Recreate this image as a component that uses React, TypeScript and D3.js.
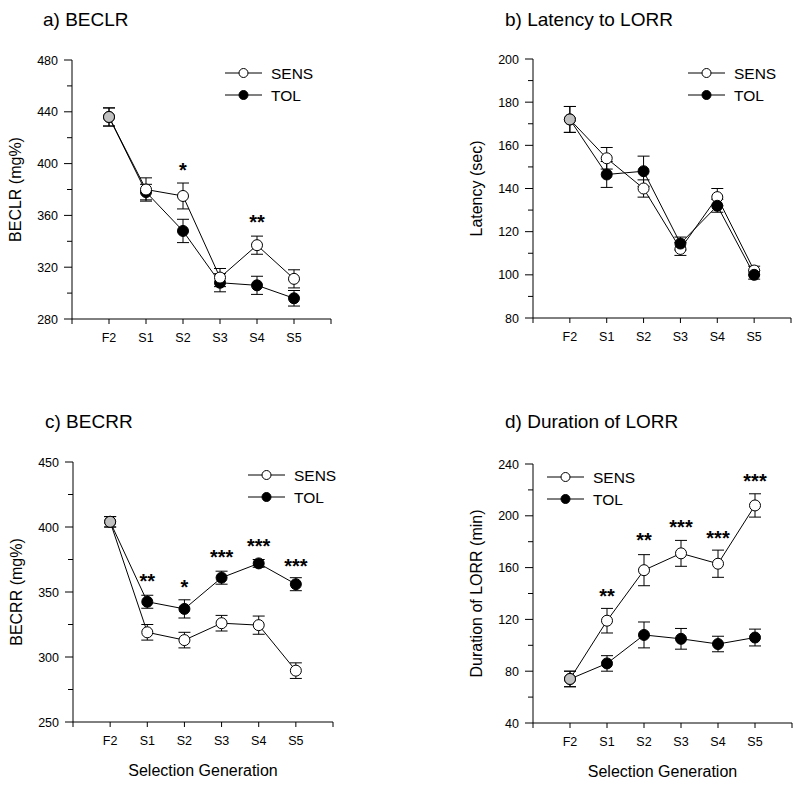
import React from 'react';
import * as d3 from 'd3';

const generations = ['F2', 'S1', 'S2', 'S3', 'S4', 'S5'];

// a) BECLR
const beclrSens = [436, 380, 375, 312, 337, 311];
const beclrSensErr = [7, 9, 10, 7, 7, 7];
const beclrTol = [436, 378, 348, 308, 306, 296];
const beclrTolErr = [7, 6, 9, 7, 7, 6];
const beclrSig = ['', '', '*', '', '**', ''];
const beclrSigY = [0, 0, 398, 0, 358, 0];

// b) Latency to LORR
const latSens = [172, 154, 140, 112, 136, 102];
const latSensErr = [6, 5, 4, 3, 4, 2];
const latTol = [172, 146.5, 148, 114.5, 132, 100];
const latTolErr = [6, 6, 7, 3, 3, 2];
const latSig = ['', '', '', '', '', ''];
const latSigY = [0, 0, 0, 0, 0, 0];

// c) BECRR
const becrrSens = [404, 319, 313, 326, 324.5, 289.5];
const becrrSensErr = [4, 6, 6, 6, 7, 6];
const becrrTol = [404, 342.5, 337, 361, 372, 356];
const becrrTolErr = [4, 5, 7, 5, 3, 5];
const becrrSig = ['', '**', '*', '***', '***', '***'];
const becrrSigY = [0, 361, 357, 380, 388.5, 373];

// d) Duration of LORR
const durSens = [74, 119, 158, 171, 163, 208];
const durSensErr = [6, 9.5, 12, 10, 10.5, 9];
const durTol = [74, 86, 108, 105, 101, 106];
const durTolErr = [6, 6, 10, 8, 6, 6.5];
const durSig = ['', '**', '**', '***', '***', '***'];
const durSigY = [0, 141, 184, 194, 186, 230];

const FONT = '"Liberation Sans", Arial, Helvetica, sans-serif';

type PanelProps = {
  title: string;
  titleX: number;
  titleY: number;
  axisX: number;
  right: number;
  top: number;
  bottom: number;
  yDomain: [number, number];
  major: number;
  minor: number;
  ylabel: string;
  xlabel: boolean;
  legendX: number;
  legendY: number;
  sens: number[];
  sensErr: number[];
  tol: number[];
  tolErr: number[];
  sig: string[];
  sigY: number[];
  topSeries: 'sens' | 'tol';
};

function Panel(p: PanelProps) {
  const x = d3.scaleLinear().domain([-1, 6]).range([p.axisX, p.right]);
  const y = d3.scaleLinear().domain(p.yDomain).range([p.bottom, p.top]);
  const majorTicks = d3.range(p.yDomain[0], p.yDomain[1] + 0.001, p.major);
  const minorTicks = d3.range(p.yDomain[0], p.yDomain[1] + 0.001, p.minor).filter(
    (v) => !majorTicks.some((m) => Math.abs(m - v) < 1e-6)
  );
  const xTicks = d3.range(-1, 7);
  const line = d3
    .line<number>()
    .x((_, i) => x(i))
    .y((d) => y(d));

  const series = [
    { key: 'sens', vals: p.sens, err: p.sensErr, fill: '#ffffff' },
    { key: 'tol', vals: p.tol, err: p.tolErr, fill: '#000000' },
  ];
  const ordered = p.topSeries === 'sens' ? [series[1], series[0]] : series;
  const r = 5.5;
  const cap = 6;
  const sigSize = 20;

  return (
    <g>
      <text x={p.titleX} y={p.titleY} fontSize={19} fontFamily={FONT} fill="#000">
        {p.title}
      </text>
      {/* y axis */}
      <line x1={p.axisX} x2={p.axisX} y1={p.top} y2={p.bottom} stroke="#000" strokeWidth={1} />
      {majorTicks.map((t) => (
        <g key={'M' + t}>
          <line x1={p.axisX - 8} x2={p.axisX} y1={y(t)} y2={y(t)} stroke="#000" strokeWidth={1} />
          <text
            x={p.axisX - 14}
            y={y(t)}
            dy="0.36em"
            textAnchor="end"
            fontSize={12.5}
            fontFamily={FONT}
            fill="#000"
          >
            {t}
          </text>
        </g>
      ))}
      {minorTicks.map((t) => (
        <line key={'m' + t} x1={p.axisX - 5} x2={p.axisX} y1={y(t)} y2={y(t)} stroke="#000" strokeWidth={1} />
      ))}
      <text
        transform={`translate(${p.axisX - 51},${(p.top + p.bottom) / 2}) rotate(-90)`}
        textAnchor="middle"
        fontSize={16}
        fontFamily={FONT}
        fill="#000"
      >
        {p.ylabel}
      </text>
      {/* x axis */}
      <line x1={p.axisX} x2={p.right} y1={p.bottom} y2={p.bottom} stroke="#000" strokeWidth={1} />
      {xTicks.map((t) => (
        <line key={'x' + t} x1={x(t)} x2={x(t)} y1={p.bottom} y2={p.bottom + 5} stroke="#000" strokeWidth={1} />
      ))}
      {generations.map((g, i) => (
        <text
          key={g}
          x={x(i)}
          y={p.bottom + 23}
          textAnchor="middle"
          fontSize={12.5}
          fontFamily={FONT}
          fill="#000"
        >
          {g}
        </text>
      ))}
      {p.xlabel && (
        <text
          x={(p.axisX + p.right) / 2}
          y={p.bottom + 54}
          textAnchor="middle"
          fontSize={16}
          fontFamily={FONT}
          fill="#000"
        >
          Selection Generation
        </text>
      )}
      {/* lines */}
      {series.map((s) => (
        <path key={'l' + s.key} d={line(s.vals) || ''} fill="none" stroke="#000" strokeWidth={1} />
      ))}
      {/* error bars */}
      {series.map((s) =>
        s.vals.map((v, i) => (
          <g key={'e' + s.key + i} stroke="#000" strokeWidth={1}>
            <line x1={x(i)} x2={x(i)} y1={y(v - s.err[i])} y2={y(v + s.err[i])} />
            <line x1={x(i) - cap} x2={x(i) + cap} y1={y(v + s.err[i])} y2={y(v + s.err[i])} />
            <line x1={x(i) - cap} x2={x(i) + cap} y1={y(v - s.err[i])} y2={y(v - s.err[i])} />
          </g>
        ))
      )}
      {/* markers */}
      {ordered.map((s) =>
        s.vals.map((v, i) => (
          <circle
            key={'c' + s.key + i}
            cx={x(i)}
            cy={y(v)}
            r={r}
            fill={i === 0 ? '#c0c0c0' : s.fill}
            stroke="#000"
            strokeWidth={1}
          />
        ))
      )}
      {/* significance */}
      {p.sig.map((s, i) =>
        s ? (
          <text
            key={'s' + i}
            x={x(i)}
            y={y(p.sigY[i]) + sigSize * 0.53}
            textAnchor="middle"
            fontSize={sigSize}
            fontWeight="bold"
            fontFamily={FONT}
            fill="#000"
          >
            {s}
          </text>
        ) : null
      )}
      {/* legend */}
      {[
        { label: 'SENS', fill: '#ffffff', dy: 0 },
        { label: 'TOL', fill: '#000000', dy: 22 },
      ].map((l) => (
        <g key={l.label}>
          <line
            x1={p.legendX}
            x2={p.legendX + 37}
            y1={p.legendY + l.dy}
            y2={p.legendY + l.dy}
            stroke="#000"
            strokeWidth={1}
          />
          <circle cx={p.legendX + 18.5} cy={p.legendY + l.dy} r={4.5} fill={l.fill} stroke="#000" strokeWidth={1} />
          <text
            x={p.legendX + 46}
            y={p.legendY + l.dy}
            dy="0.36em"
            fontSize={15.5}
            fontFamily={FONT}
            fill="#000"
          >
            {l.label}
          </text>
        </g>
      ))}
    </g>
  );
}

export default function App() {
  return (
    <svg
      width={800}
      height={785}
      style={{ position: 'absolute', left: 0, top: 0, background: '#fff' }}
    >
      <rect x={0} y={0} width={800} height={785} fill="#fff" />
      <Panel
        title="a) BECLR"
        titleX={43}
        titleY={26}
        axisX={72}
        right={331}
        top={60}
        bottom={319}
        yDomain={[280, 480]}
        major={40}
        minor={20}
        ylabel="BECLR (mg%)"
        xlabel={false}
        legendX={225}
        legendY={73}
        sens={beclrSens}
        sensErr={beclrSensErr}
        tol={beclrTol}
        tolErr={beclrTolErr}
        sig={beclrSig}
        sigY={beclrSigY}
        topSeries="sens"
      />
      <Panel
        title="b) Latency to LORR"
        titleX={505}
        titleY={26}
        axisX={533}
        right={791}
        top={59}
        bottom={318}
        yDomain={[80, 200]}
        major={20}
        minor={10}
        ylabel="Latency (sec)"
        xlabel={false}
        legendX={688}
        legendY={73}
        sens={latSens}
        sensErr={latSensErr}
        tol={latTol}
        tolErr={latTolErr}
        sig={latSig}
        sigY={latSigY}
        topSeries="tol"
      />
      <Panel
        title="c) BECRR"
        titleX={45}
        titleY={428}
        axisX={73}
        right={333}
        top={462}
        bottom={722}
        yDomain={[250, 450]}
        major={50}
        minor={25}
        ylabel="BECRR (mg%)"
        xlabel={true}
        legendX={248}
        legendY={475}
        sens={becrrSens}
        sensErr={becrrSensErr}
        tol={becrrTol}
        tolErr={becrrTolErr}
        sig={becrrSig}
        sigY={becrrSigY}
        topSeries="tol"
      />
      <Panel
        title="d) Duration of LORR"
        titleX={505}
        titleY={428}
        axisX={533}
        right={792}
        top={464}
        bottom={723}
        yDomain={[40, 240]}
        major={40}
        minor={20}
        ylabel="Duration of LORR (min)"
        xlabel={true}
        legendX={547}
        legendY={477}
        sens={durSens}
        sensErr={durSensErr}
        tol={durTol}
        tolErr={durTolErr}
        sig={durSig}
        sigY={durSigY}
        topSeries="tol"
      />
    </svg>
  );
}
